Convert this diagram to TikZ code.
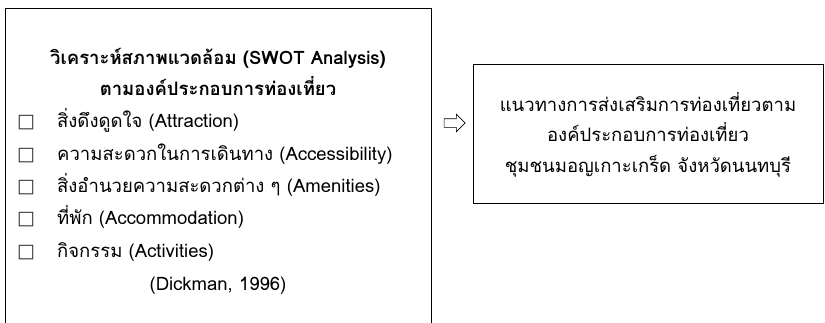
\documentclass[tikz,border=0pt]{standalone}
\usepackage{fontspec}
\setmainfont[Script=Thai]{Loma}
\newfontfamily\symfont{DejaVu Sans}
\usetikzlibrary{shapes.arrows}
\begin{document}
\begin{tikzpicture}[x=1pt,y=-1pt,
  box/.style={draw=black,line width=1pt},
  txt/.style={font=\fontsize{18.5}{20}\selectfont,inner sep=0pt},
  item/.style={txt,anchor=base west},
  chk/.style={font=\symfont\fontsize{19}{19}\selectfont,inner sep=0pt,anchor=base,text=black!80}]
\useasboundingbox (0,0) rectangle (825,322);
\draw[box] (5,340) -- (5,8) -- (431,8) -- (431,340);
\node[txt,font=\bfseries\fontsize{18.5}{20}\selectfont,anchor=base] (t1) at (218,64) {วิเคราะห์สภาพแวดล้อม (SWOT Analysis)};
\node[txt,font=\bfseries\fontsize{18.5}{20}\selectfont,anchor=base] (t2) at (218,95) {ตามองค์ประกอบการท่องเที่ยว};
\foreach \i/\y/\t in {1/127/{สิ่งดึงดูดใจ (Attraction)},
  2/160/{ความสะดวกในการเดินทาง (Accessibility)},
  3/192/{สิ่งอำนวยความสะดวกต่าง ๆ (Amenities)},
  4/224/{ที่พัก (Accommodation)},
  5/257/{กิจกรรม (Activities)}}{
  \node[chk] (c\i) at (26,\y) {□};
  \node[item] (i\i) at (57,\y) {\t};
}
\node[txt,anchor=base] (cite) at (218,290) {(Dickman, 1996)};
\node[single arrow,draw=black,line width=0.6pt,fill=white,minimum height=21pt,inner xsep=0pt,inner ysep=4pt,single arrow head extend=4.5pt] (arr) at (452.5,123) {};
\node[box,minimum width=350pt,minimum height=139pt,inner sep=0pt] (rb) at (648,133.5) {};
\node[txt,anchor=base] (r1) at (648,111) {แนวทางการส่งเสริมการท่องเที่ยวตาม};
\node[txt,anchor=base] (r2) at (648,141) {องค์ประกอบการท่องเที่ยว};
\node[txt,anchor=base] (r3) at (648,172) {ชุมชนมอญเกาะเกร็ด จังหวัดนนทบุรี};
\end{tikzpicture}
\end{document}
